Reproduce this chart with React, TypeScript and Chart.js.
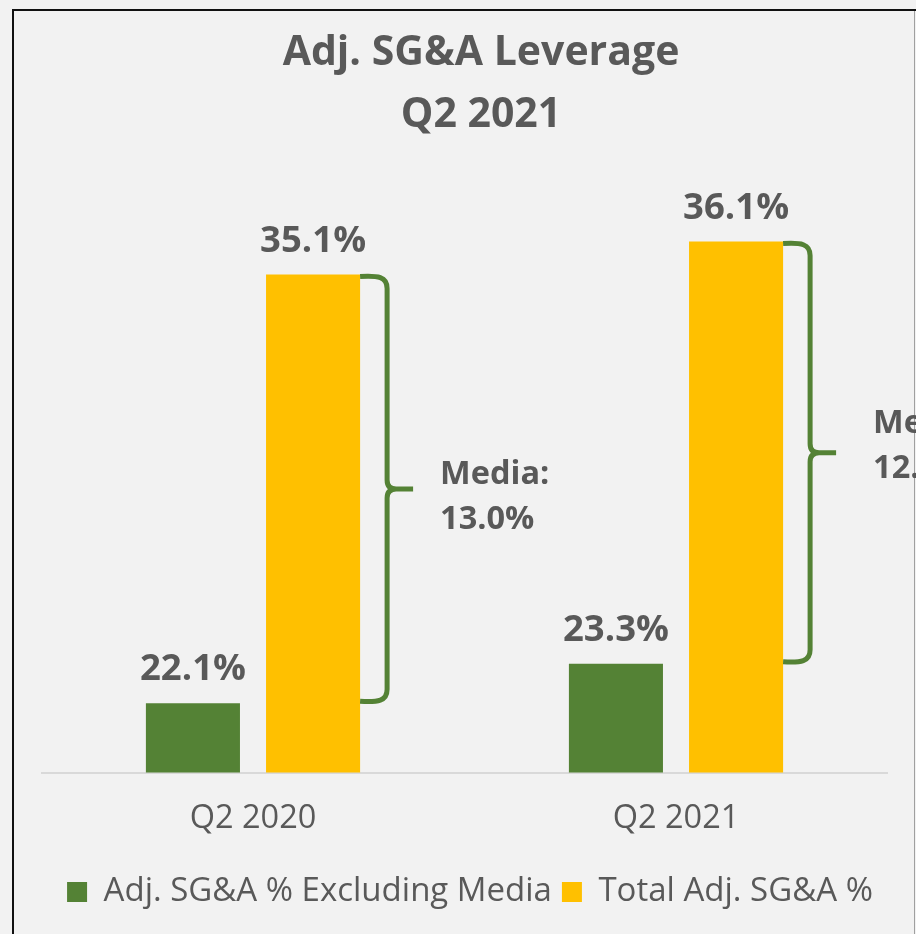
import React, { useEffect, useRef } from "react";
import { Chart, registerables } from "chart.js";

Chart.register(...registerables);

// ---- data ----
const categories = ["Q2 2020", "Q2 2021"];
const seriesNames = ["Adj. SG&A % Excluding Media", "Total Adj. SG&A %"];
const exclMedia = [22.1, 23.3];
const totalSga = [35.1, 36.1];
const titleLines = ["Adj. SG&A Leverage", "Q2 2021"];
const mediaLabel = "Media:";
const yMin = 20;
const yMax = 40;

// ---- style ----
const GREEN = "#548235";
const YELLOW = "#FFC000";
const TEXT = "#595959";
const FONT = "'Open Sans', sans-serif";
const W = 916;
const H = 934;
const braceLabelDx = [80, 90];
const braceLabelDy = [-5, -20];

const titlePlugin = {
  id: "customTitle",
  afterDraw(chart: any) {
    const ctx = chart.ctx;
    ctx.save();
    ctx.fillStyle = TEXT;
    ctx.font = `bold 41px ${FONT}`;
    ctx.textAlign = "center";
    ctx.textBaseline = "alphabetic";
    ctx.fillText(titleLines[0], 481, 65);
    ctx.fillText(titleLines[1], 481, 127);
    ctx.restore();
  },
};

const valueLabelPlugin = {
  id: "valueLabels",
  afterDatasetsDraw(chart: any) {
    const ctx = chart.ctx;
    ctx.save();
    ctx.fillStyle = TEXT;
    ctx.font = `bold 36.5px ${FONT}`;
    ctx.textAlign = "center";
    ctx.textBaseline = "alphabetic";
    chart.data.datasets.forEach((ds: any, di: number) => {
      const meta = chart.getDatasetMeta(di);
      meta.data.forEach((el: any, i: number) => {
        ctx.fillText(ds.data[i].toFixed(1) + "%", el.x, el.y - 23);
      });
    });
    ctx.restore();
  },
};

const bracePlugin = {
  id: "braces",
  afterDatasetsDraw(chart: any) {
    const ctx = chart.ctx;
    const m0 = chart.getDatasetMeta(0);
    const m1 = chart.getDatasetMeta(1);
    ctx.save();
    m1.data.forEach((bar: any, i: number) => {
      const { x, y, width } = bar.getProps(["x", "y", "width"], true);
      const xr = x + width / 2;
      const yT = y + 2;
      const yB = m0.data[i].y - 2;
      const ym = (yT + yB) / 2;
      const xv = xr + 27;
      const xt = xr + 53;
      ctx.strokeStyle = GREEN;
      ctx.lineWidth = 5;
      ctx.lineCap = "butt";
      ctx.lineJoin = "round";
      ctx.beginPath();
      ctx.moveTo(xr, yT);
      ctx.bezierCurveTo(xr + 18, yT - 1, xv, yT, xv, yT + 12);
      ctx.lineTo(xv, ym - 9);
      ctx.quadraticCurveTo(xv, ym, xv + 9, ym);
      ctx.lineTo(xt, ym);
      ctx.moveTo(xv + 9, ym);
      ctx.quadraticCurveTo(xv, ym, xv, ym + 9);
      ctx.lineTo(xv, yB - 12);
      ctx.bezierCurveTo(xv, yB, xr + 18, yB + 1, xr, yB);
      ctx.stroke();

      const diff = chart.data.datasets[1].data[i] - chart.data.datasets[0].data[i];
      ctx.fillStyle = TEXT;
      ctx.font = `bold 32.5px ${FONT}`;
      ctx.textAlign = "left";
      ctx.textBaseline = "alphabetic";
      const lx = xr + braceLabelDx[i];
      const ly = ym + braceLabelDy[i];
      ctx.fillText(mediaLabel, lx, ly);
      ctx.fillText(diff.toFixed(1) + "%", lx, ly + 45);
    });
    ctx.restore();
  },
};

export default function App() {
  const ref = useRef<HTMLCanvasElement | null>(null);

  useEffect(() => {
    if (!ref.current) return;
    const chart = new Chart(ref.current, {
      type: "bar",
      data: {
        labels: categories,
        datasets: [
          {
            label: seriesNames[0],
            data: exclMedia,
            backgroundColor: GREEN,
            borderWidth: 0,
            barPercentage: 0.783,
            categoryPercentage: 0.568,
          },
          {
            label: seriesNames[1],
            data: totalSga,
            backgroundColor: YELLOW,
            borderWidth: 0,
            barPercentage: 0.783,
            categoryPercentage: 0.568,
          },
        ],
      },
      options: {
        responsive: false,
        animation: false,
        devicePixelRatio: 1,
        layout: { padding: { left: 41.5, right: 17.5, top: 113, bottom: 15.5 } },
        plugins: {
          title: { display: false },
          tooltip: { enabled: false },
          legend: {
            position: "bottom",
            labels: {
              boxWidth: 20,
              boxHeight: 20,
              padding: 10,
              color: TEXT,
              font: { family: FONT, size: 33 },
            },
          },
        },
        scales: {
          x: {
            grid: { display: false, drawTicks: false },
            border: { display: true, color: "#d9d9d9", width: 2 },
            ticks: { color: TEXT, font: { family: FONT, size: 32.5 }, padding: 27 },
          },
          y: {
            position: "right",
            min: yMin,
            max: yMax,
            grid: { display: false, drawTicks: false },
            border: { display: false },
            ticks: { display: false },
            afterFit: (scale: any) => {
              scale.width = 11;
            },
          },
        },
      },
      plugins: [titlePlugin, valueLabelPlugin, bracePlugin],
    } as any);
    return () => chart.destroy();
  }, []);

  return (
    <div
      style={{
        position: "fixed",
        left: 0,
        top: 0,
        width: W,
        height: H,
        overflow: "hidden",
        background: "#f2f2f2",
      }}
    >
      <div
        style={{
          position: "absolute",
          left: 12,
          top: 9,
          width: W,
          height: H,
          borderLeft: "2px solid #111",
          borderTop: "2px solid #111",
        }}
      />
      <div
        style={{
          position: "absolute",
          left: 914,
          top: 11,
          width: 1,
          height: H,
          background: "#a0a0a0",
        }}
      />
      <canvas
        ref={ref}
        width={W}
        height={H}
        style={{ position: "absolute", left: 0, top: 0, width: W, height: H }}
      />
    </div>
  );
}
